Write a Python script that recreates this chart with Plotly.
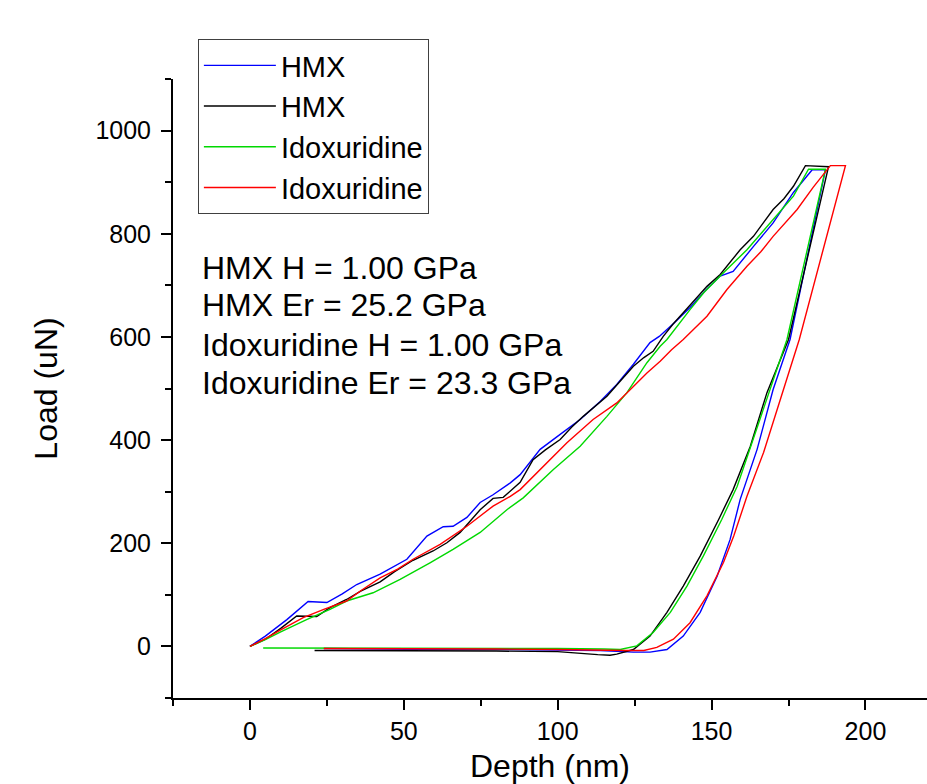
"""Nanoindentation load-depth curves for HMX and Idoxuridine."""

import plotly.graph_objects as go

FONT = "Arial, Liberation Sans, sans-serif"

# HMX run 1 (blue): loading, hold, unloading, retract
hmx1_depth = [0, 5, 12, 18.9, 25, 30, 34.7, 42.3, 51, 57.5, 62.8, 66, 70.5, 74.8, 79, 84.6,
              87.8, 94.3, 100.8, 107.3, 113.8, 119.2, 124.6, 130, 133, 138, 143, 148, 152.8,
              157, 163.7, 170, 176.6, 182.7, 187,
              175.5, 170, 164.8, 159.3, 156, 151.8, 146.3, 140.8, 135.5, 130, 124.6,
              113.8, 100, 80, 60, 40, 24]
hmx1_load = [0, 20, 52, 87, 85, 102, 120, 140, 169, 214, 232, 233, 250, 279, 294, 317,
             333, 382, 411, 440, 475, 508, 547, 589, 601, 628, 657, 690, 718,
             727, 776, 821, 880, 924, 924,
             595, 498, 382, 285, 207, 136, 66, 20, -6, -11, -11,
             -8, -7, -6, -6, -5, -4]

# HMX run 2 (black)
hmx2_depth = [0, 5, 10, 15.2, 21.7, 26, 31.4, 36, 42.3, 47, 53, 59.5, 64, 68.3, 74.8, 79,
              82.3, 87.8, 92, 96, 100.8, 104.5, 108.3, 112, 116, 120, 124.6, 128, 131, 134.3,
              137.5, 140.8, 144.5, 148.5, 152.8, 156, 159.3, 163.6, 167, 170, 173.5, 176.6,
              180.5, 185.4, 188,
              175, 168, 162.6, 157, 152.3, 146.3, 140.8, 135.5, 130, 124.6, 119.2,
              117, 113, 105, 100, 80, 60, 40, 21]
hmx2_load = [0, 14, 35, 59, 58, 75, 91, 107, 125, 145, 167, 185, 201, 221, 265, 287,
             289, 318, 362, 381, 401, 425, 446, 464, 485, 512, 543, 560, 572, 601,
             625, 647, 672, 698, 721, 745, 769, 795, 822, 847, 868, 892,
             932, 931, 930,
             595, 492, 388, 304, 246, 175, 117, 66, 20, -6, -15,
             -17, -16, -12, -10, -9, -9, -8, -8]

# Idoxuridine run 1 (green)
ido1_depth = [0, 5, 10, 18.4, 26, 31.4, 40, 48.8, 58.5, 66, 74.8, 83.5, 88.8, 98.6, 107.3,
              116, 122.5, 129, 133.3, 135.5, 143, 147.5, 152.8, 157, 161.5, 166, 170, 173.5,
              176.6, 181.5, 187,
              174.5, 169, 163.6, 158.3, 153.3, 147.3, 142, 136.6, 131, 125.7, 120.3,
              115, 100, 80, 60, 40, 20, 4.3]
ido1_load = [0, 13, 28, 52, 72, 88, 104, 130, 162, 188, 221, 265, 288, 343, 388,
             446, 492, 550, 582, 595, 653, 686, 718, 743, 769, 800, 827, 850,
             873, 925, 925,
             595, 498, 401, 310, 246, 175, 117, 66, 27, 1, -6,
             -5, -4, -4, -3, -3, -3, -3]

# Idoxuridine run 2 (red)
ido2_depth = [0, 5, 10, 17.3, 24, 31.4, 36, 42.3, 48, 53, 61.8, 70.5, 79, 84.6, 87.8, 94.3,
              103, 111.5, 119.2, 124.6, 129, 133.3, 137, 140.8, 144.5, 148.5, 155, 161.5,
              166, 170, 177.8, 183, 188.6, 193.5,
              178.5, 172.4, 166.9, 161.5, 157.2, 153.9, 148.5, 143, 137.6, 132.2, 128,
              122, 113.8, 100, 80, 60, 40, 24]
ido2_load = [0, 15, 32, 56, 72, 88, 108, 133, 150, 169, 198, 233, 272, 291, 304, 343,
             395, 440, 472, 504, 530, 553, 575, 595, 617, 640, 692, 737,
             765, 795, 847, 890, 932, 932,
             595, 479, 376, 291, 214, 163, 98, 46, 14, -2, -8,
             -8, -7, -6, -5, -5, -4, -4]

series_names = ["HMX", "HMX", "Idoxuridine", "Idoxuridine"]
series_colors = ["#0000ff", "#000000", "#00d800", "#ff0000"]
series_depth = [hmx1_depth, hmx2_depth, ido1_depth, ido2_depth]
series_load = [hmx1_load, hmx2_load, ido1_load, ido2_load]

result_lines = [
    "HMX H = 1.00 GPa",
    "HMX Er = 25.2 GPa",
    "Idoxuridine H = 1.00 GPa",
    "Idoxuridine Er = 23.3 GPa",
]
result_y = [734, 661, 585, 510]

fig = go.Figure()
for name, color, xs, ys in zip(series_names, series_colors, series_depth, series_load):
    fig.add_trace(
        go.Scatter(x=xs, y=ys, mode="lines", name=name, line=dict(color=color, width=1.4))
    )

for text, y in zip(result_lines, result_y):
    fig.add_annotation(
        x=-16.3, y=y, xref="x", yref="y", text=text, showarrow=False,
        xanchor="left", yanchor="middle", font=dict(size=32, color="black", family=FONT),
    )

axis_common = dict(
    showgrid=False, zeroline=False, showline=True, linecolor="black", linewidth=2,
    ticks="outside", ticklen=10, tickwidth=2, tickcolor="black",
    tickfont=dict(size=25, color="black", family=FONT),
    automargin=False,
)

fig.update_layout(
    width=927,
    height=784,
    margin=dict(l=173, r=0, t=79, b=86),
    plot_bgcolor="white",
    paper_bgcolor="white",
    font=dict(family=FONT, color="black"),
    xaxis=dict(
        range=[-25, 220], tick0=0, dtick=50,
        minor=dict(dtick=25, ticks="outside", ticklen=6, tickwidth=2, tickcolor="black"),
        title=dict(text="Depth (nm)", font=dict(size=32, family=FONT), standoff=32),
        ticklabelstandoff=0,
        **axis_common,
    ),
    yaxis=dict(
        range=[-100, 1100], tick0=0, dtick=200,
        minor=dict(dtick=100, ticks="outside", ticklen=6, tickwidth=2, tickcolor="black"),
        title=dict(text="Load (uN)", font=dict(size=32, family=FONT), standoff=28),
        ticklabelstandoff=5,
        **axis_common,
    ),
    legend=dict(
        x=0.033, y=1.0646, xanchor="left", yanchor="top",
        bordercolor="#404040", borderwidth=1, bgcolor="white",
        font=dict(size=29, family=FONT, color="black"),
        itemwidth=72, tracegroupgap=0,
    ),
)

# drop the default body margin so the figure fills the window exactly
fig.write_html(
    "out.html",
    config={"displayModeBar": False},
    post_script="document.body.style.margin = '0';",
)
